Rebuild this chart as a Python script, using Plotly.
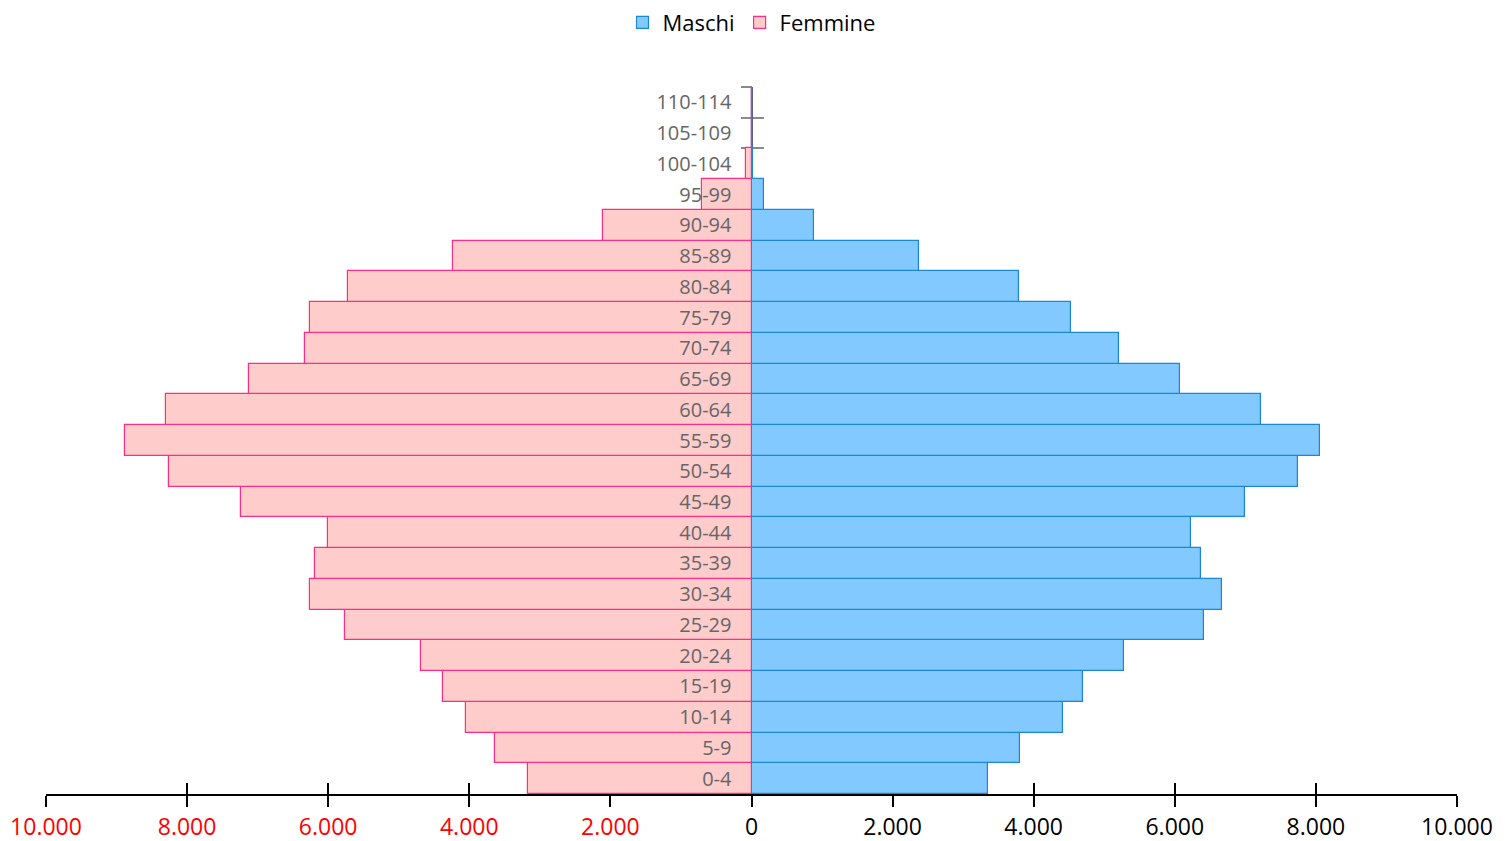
import plotly.graph_objects as go

age_groups = ["0-4", "5-9", "10-14", "15-19", "20-24", "25-29", "30-34", "35-39",
              "40-44", "45-49", "50-54", "55-59", "60-64", "65-69", "70-74", "75-79",
              "80-84", "85-89", "90-94", "95-99", "100-104", "105-109", "110-114"]
maschi = [3359, 3799, 4422, 4692, 5273, 6407, 6676, 6378, 6223, 6988, 7753, 8051,
          7215, 6067, 5202, 4522, 3785, 2381, 879, 184, 25, 0, 0]
femmine = [3175, 3629, 4040, 4366, 4678, 5769, 6251, 6194, 5996, 7229, 8250, 8887,
           8306, 7116, 6336, 6251, 5726, 4238, 2098, 699, 82, 0, 0]
tick_values = [-10000, -8000, -6000, -4000, -2000, 0, 2000, 4000, 6000, 8000, 10000]
tick_labels = ["10.000", "8.000", "6.000", "4.000", "2.000", "0",
               "2.000", "4.000", "6.000", "8.000", "10.000"]

FONT = "Open Sans"
RED = "#ff0000"
ticktext = [f'<span style="color:{RED}">{t}</span>' if v < 0 else t
            for v, t in zip(tick_values, tick_labels)]
n = len(age_groups)

fig = go.Figure()
fig.add_trace(go.Bar(
    name="Maschi", y=age_groups, x=maschi, orientation="h",
    marker=dict(color="#82c9ff", line=dict(color="#1b87d6", width=1.2)),
))
fig.add_trace(go.Bar(
    name="Femmine", y=age_groups, x=[-v for v in femmine], orientation="h",
    marker=dict(color="#ffcccc", line=dict(color="#ff2c85", width=1.2)),
))
# invisible helper traces carrying the secondary axes (axis line and boundary ticks)
for ya in ("y2", "y3"):
    fig.add_trace(go.Scatter(
        x=[0] * n, y=age_groups, xaxis="x2", yaxis=ya,
        mode="markers", marker=dict(opacity=0), showlegend=False, hoverinfo="skip",
    ))

cat_common = dict(type="category", categoryorder="array", categoryarray=age_groups,
                  range=[-0.5, n - 0.5], anchor="free", position=0.5, side="left",
                  showgrid=False, zeroline=False)

fig.update_layout(
    width=1501, height=833,
    margin=dict(l=38, r=52, t=79, b=47, autoexpand=False),
    paper_bgcolor="white", plot_bgcolor="white",
    barmode="overlay", bargap=0,
    font=dict(family=FONT, color="#000000"),
    showlegend=True,
    legend=dict(orientation="h", x=0.5, xanchor="center", y=1.091, yanchor="middle",
                font=dict(size=22, family=FONT, color="#000000"),
                traceorder="normal", itemwidth=30),
    xaxis=dict(
        range=[-10000, 10000], tickmode="array", tickvals=tick_values, ticktext=ticktext,
        ticks="outside", ticklen=11, tickwidth=2, tickcolor="#000000",
        showline=True, linecolor="#000000", linewidth=2,
        showgrid=False, zeroline=False, tickfont=dict(size=23, family=FONT, color="#000000"),
        anchor="y", fixedrange=True, automargin=False,
    ),
    xaxis2=dict(
        range=[-10000, 10000], overlaying="x", anchor="y", side="bottom",
        tickmode="array", tickvals=tick_values, showticklabels=False,
        ticks="inside", ticklen=11, tickwidth=2, tickcolor="#000000",
        showline=False, showgrid=False, zeroline=False, layer="below traces",
    ),
    yaxis=dict(
        **cat_common,
        showline=False, ticks="",
        tickfont=dict(size=20, family=FONT, color="#666666"),
        ticklabelstandoff=20, layer="above traces", automargin=False,
    ),
    yaxis2=dict(
        **cat_common, overlaying="y",
        showline=True, linecolor="#5e5e99", linewidth=2,
        ticks="inside", tickson="boundaries", ticklen=11, tickwidth=2, tickcolor="#8a8a8a",
        showticklabels=False, layer="below traces",
    ),
    yaxis3=dict(
        **cat_common, overlaying="y",
        showline=False,
        ticks="outside", tickson="boundaries", ticklen=11, tickwidth=2, tickcolor="#8a8a8a",
        showticklabels=False, layer="below traces",
    ),
)

fig.write_html("out.html")
